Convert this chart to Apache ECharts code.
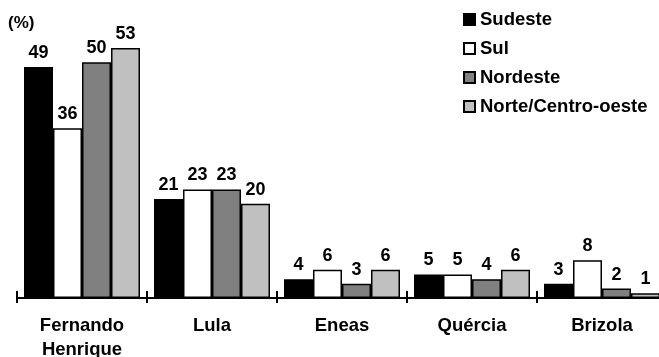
<!DOCTYPE html>
<html>
<head>
<meta charset="utf-8">
<script src="https://cdn.jsdelivr.net/npm/echarts@6/dist/echarts.min.js"></script>
<style>
  html, body { margin: 0; padding: 0; background: #fff; }
  #chart { width: 659px; height: 357px; }
</style>
</head>
<body>
<div id="chart"></div>
<script>
var candidates = ['Fernando\nHenrique', 'Lula', 'Eneas', 'Quércia', 'Brizola'];
var sudeste = [49, 21, 4, 5, 3];
var sul = [36, 23, 6, 5, 8];
var nordeste = [50, 23, 3, 4, 2];
var norteCO = [53, 20, 6, 6, 1];

var names = ['Sudeste', 'Sul', 'Nordeste', 'Norte/Centro-oeste'];
var colors = ['#000000', '#ffffff', '#808080', '#c0c0c0'];
var values = [sudeste, sul, nordeste, norteCO];

var font = 'Liberation Sans, Arial, sans-serif';

var myChart = echarts.init(document.getElementById('chart'));

var series = names.map(function (n, i) {
  return {
    name: n,
    type: 'bar',
    barWidth: 29,
    barGap: '0%',
    data: values[i],
    itemStyle: {
      color: colors[i],
      borderColor: '#000',
      borderWidth: 1.5
    },
    label: {
      show: true,
      position: 'top',
      distance: 5,
      color: '#000',
      fontFamily: font,
      fontWeight: 'bold',
      fontSize: 18
    }
  };
});

var option = {
  backgroundColor: '#fff',
  animation: false,
  title: {
    text: '(%)',
    left: 8,
    top: 15,
    padding: 0,
    textStyle: { fontFamily: font, fontWeight: 'bold', fontSize: 17, color: '#000' }
  },
  legend: {
    orient: 'vertical',
    left: 458,
    top: 5,
    itemWidth: 11,
    itemHeight: 11,
    itemGap: 10,
    icon: 'rect',
    data: names,
    textStyle: {
      fontFamily: font,
      fontWeight: 'bold',
      fontSize: 18.5,
      lineHeight: 17,
      color: '#000'
    }
  },
  grid: {
    left: 17,
    right: -8,
    top: 15,
    bottom: 59,
    containLabel: false,
    outerBoundsMode: 'none'
  },
  xAxis: [{
    type: 'category',
    data: candidates,
    axisLine: { lineStyle: { color: '#000', width: 2 } },
    axisTick: { show: false },
    axisLabel: {
      margin: 16,
      color: '#000',
      fontFamily: font,
      fontWeight: 'bold',
      fontSize: 18.5,
      lineHeight: 24
    }
  }, {
    // second axis draws the ticks that cross the baseline
    type: 'category',
    data: candidates,
    position: 'bottom',
    offset: -7,
    axisLine: { show: false, onZero: false },
    axisTick: { show: true, length: 12, lineStyle: { color: '#000', width: 2 } },
    axisLabel: { show: false }
  }],
  yAxis: {
    type: 'value',
    min: 0,
    max: 60,
    show: false
  },
  series: series
};

myChart.setOption(option);
</script>
</body>
</html>
